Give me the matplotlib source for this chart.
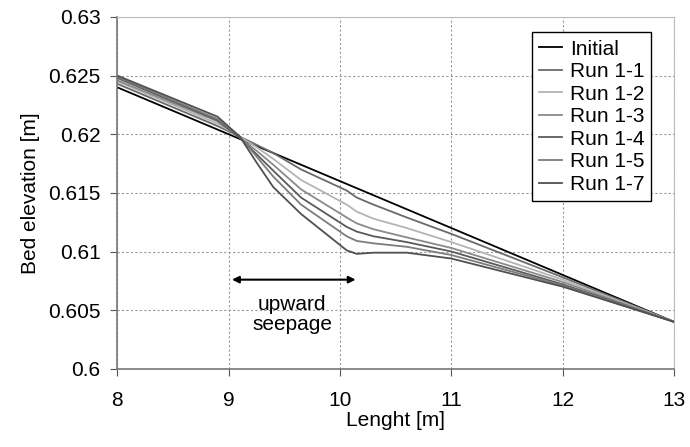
import matplotlib
matplotlib.use("Agg")
import matplotlib.pyplot as plt

plt.rcParams['font.family'] = ['Liberation Sans', 'DejaVu Sans']

# bed profiles
x_init = [8, 13]
y_init = [0.624, 0.604]

x_run = [8, 8.9, 9.1, 9.25, 9.4, 9.65, 10.06, 10.15, 10.3, 10.6, 11, 12, 13]
run_11 = [0.6243, 0.6207, 0.6198, 0.6191, 0.6184, 0.6170, 0.6152, 0.6146, 0.6140, 0.6129, 0.6115, 0.6078, 0.604]
run_12 = [0.6245, 0.6209, 0.6198, 0.6189, 0.6179, 0.6161, 0.6140, 0.6134, 0.6128, 0.6120, 0.6108, 0.6076, 0.604]
run_13 = [0.6246, 0.6211, 0.6197, 0.6186, 0.6174, 0.6153, 0.6129, 0.6124, 0.6119, 0.6112, 0.6103, 0.6074, 0.604]
run_14 = [0.6248, 0.6212, 0.6197, 0.6183, 0.6169, 0.6146, 0.6121, 0.6117, 0.6113, 0.6108, 0.6100, 0.6072, 0.604]
run_15 = [0.6249, 0.6213, 0.6198, 0.6181, 0.6164, 0.6140, 0.6113, 0.6109, 0.6107, 0.6104, 0.6097, 0.6071, 0.604]
run_17 = [0.6250, 0.6215, 0.6198, 0.6176, 0.6155, 0.6132, 0.6101, 0.6098, 0.6099, 0.6099, 0.6094, 0.6070, 0.604]

runs = [run_11, run_12, run_13, run_14, run_15, run_17]
labels = ['Run 1-1', 'Run 1-2', 'Run 1-3', 'Run 1-4', 'Run 1-5', 'Run 1-7']
colors = ['#6a6a6a', '#b4b4b4', '#8a8a8a', '#5a5a5a', '#7c7c7c', '#505050']

fig = plt.figure(figsize=(6.9, 4.47), dpi=100)
ax = fig.add_axes([0.170, 0.175, 0.807, 0.787])

ax.plot(x_init, y_init, color='black', lw=1.3, label='Initial')
for y, lab, c in zip(runs, labels, colors):
    ax.plot(x_run, y, color=c, lw=1.3, label=lab)

ax.annotate('', xy=(9.03, 0.6076), xytext=(10.14, 0.6076),
            arrowprops=dict(arrowstyle='<|-|>', color='black', lw=1.5,
                            mutation_scale=10, shrinkA=0, shrinkB=0))
ax.text(9.57, 0.6046, 'upward\nseepage', ha='center', va='center',
        fontsize=15, linespacing=1.05)

ax.set_xlim(8, 13)
ax.set_ylim(0.6, 0.63)
ax.set_xticks([8, 9, 10, 11, 12, 13])
ax.set_yticks([0.6, 0.605, 0.61, 0.615, 0.62, 0.625, 0.63])
ax.set_yticklabels(['0.6', '0.605', '0.61', '0.615', '0.62', '0.625', '0.63'])
ax.grid(True, color='#999999', linestyle=(0, (2, 2)), lw=0.8)
ax.tick_params(labelsize=15, length=5, color='#555555')
ax.tick_params(axis='x', pad=11)
ax.tick_params(axis='y', pad=7)
for s in ['left', 'bottom']:
    ax.spines[s].set_color('#777777')
    ax.spines[s].set_linewidth(1.2)
for s in ['top', 'right']:
    ax.spines[s].set_color('#bbbbbb')

ax.set_xlabel('Lenght [m]', fontsize=15, labelpad=1)
ax.set_ylabel('Bed elevation [m]', fontsize=15, labelpad=6)

leg = ax.legend(loc='upper right', fontsize=15, handlelength=1.1,
                handletextpad=0.35, labelspacing=0.17, borderpad=0.35,
                fancybox=False, framealpha=1, bbox_to_anchor=(0.978, 0.986))
leg.get_frame().set_edgecolor('black')
leg.get_frame().set_linewidth(1.0)

fig.savefig('out.png', dpi=100)
